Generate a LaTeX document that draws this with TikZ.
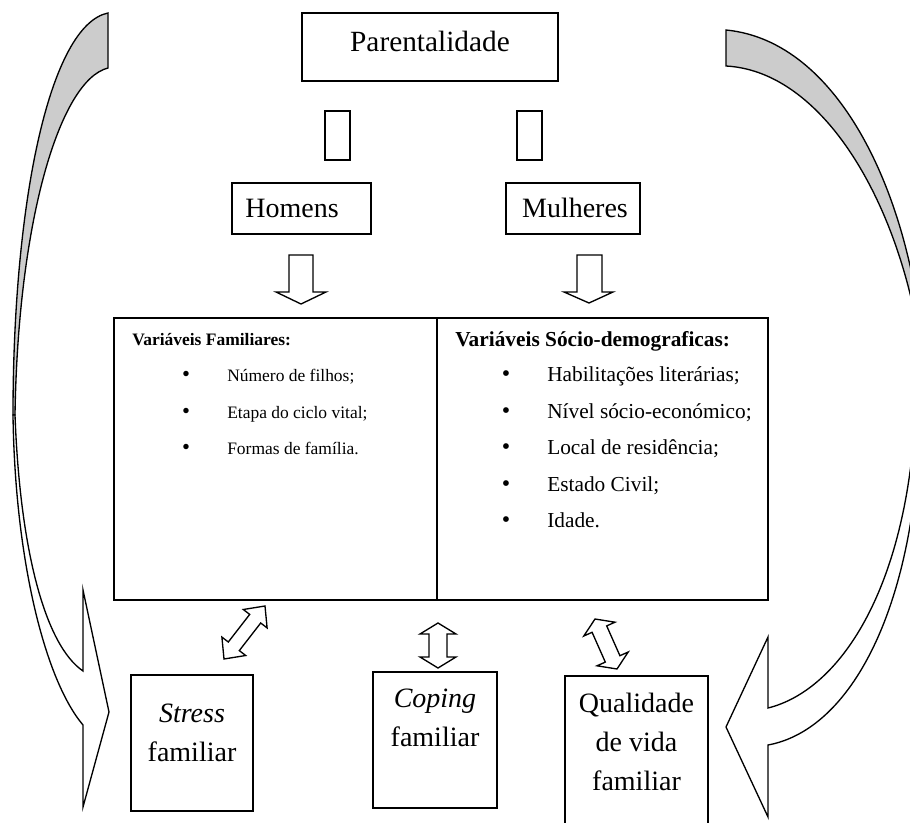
\documentclass[tikz,border=0pt]{standalone}
\usepackage{fontspec}
\setmainfont{Liberation Serif}
\begin{document}
\begin{tikzpicture}[x=0.75pt,y=-0.75pt,line join=miter,
  box/.style={draw,line width=1.15pt,inner sep=0pt,fill=white},
  big/.style={inner sep=0pt,anchor=base,font=\fontsize{21}{25}\selectfont},
  body/.style={inner sep=0pt,anchor=base west,font=\fontsize{13.1}{15}\selectfont},
  bodyr/.style={inner sep=0pt,anchor=base west,font=\fontsize{16}{18}\selectfont},
  bul/.style={inner sep=0pt,anchor=base,font=\fontsize{17}{17}\selectfont},
  bulr/.style={inner sep=0pt,anchor=base,font=\fontsize{18}{18}\selectfont},
  blk/.style={draw,line width=1pt,fill=white},
  band/.style={draw,line width=1pt,fill=black!20}]
\useasboundingbox (0,0) rectangle (910,823);
\clip (0,0) rectangle (910,823);

% curved arrows
\draw[band] (108,13) .. controls (50,25) and (13,200) .. (13,415) -- (15,415) .. controls (18,220) and (60,80) .. (108,68) -- cycle;
\draw[blk] (15,415) .. controls (20,550) and (45,645) .. (83,671) -- (83,590) -- (109,712) -- (83,807) -- (83,725) .. controls (45,680) and (15,560) .. (13,415) -- cycle;
\draw[band] (726,30) .. controls (850,42) and (922,225) .. (925,390) .. controls (915,235) and (835,72) .. (726,66) -- cycle;
\draw[blk] (915,420) .. controls (905,590) and (840,690) .. (768,708) -- (768,637) -- (726,727) -- (768,817) -- (768,745) .. controls (850,730) and (915,610) .. (920,420) -- cycle;

% boxes
\node[box,minimum width=192pt,minimum height=51pt] (par) at (430,47) {};
\node[big,font=\fontsize{22}{26}\selectfont] (partxt) at (430,52) {Parentalidade};
\node[box,minimum width=18.75pt,minimum height=36.75pt] (gl) at (337.5,135.5) {};
\node[box,minimum width=18.75pt,minimum height=36.75pt] (gr) at (529.5,135.5) {};
\node[box,minimum width=104.25pt,minimum height=38.25pt] (hom) at (301.5,208.5) {};
\node[big] (homtxt) at (292,218) {Homens};
\node[box,minimum width=100.5pt,minimum height=38.25pt] (mul) at (573,208.5) {};
\node[big] (multxt) at (575,218) {Mulheres};

% down block arrows
\draw[blk] (289,255) -- (313,255) -- (313,292) -- (326,292) -- (301,304) -- (276,292) -- (289,292) -- cycle;
\draw[blk] (577,255) -- (602,255) -- (602,292) -- (613,292) -- (589,303) -- (564,292) -- (577,292) -- cycle;

% main box
\node[box,minimum width=242.25pt,minimum height=211.5pt] (fam) at (275.5,459) {};
\node[box,minimum width=248.25pt,minimum height=211.5pt] (soc) at (602.5,459) {};

\node[body,font=\fontsize{13.1}{15}\selectfont\bfseries] (famh) at (132,346) {Variáveis Familiares:};
\node[bul] (fb1) at (186,382) {•};
\node[body] (fi1) at (227,382) {Número de filhos;};
\node[bul] (fb2) at (186,418) {•};
\node[body] (fi2) at (227,418) {Etapa do ciclo vital;};
\node[bul] (fb3) at (186,454) {•};
\node[body] (fi3) at (227,454) {Formas de família.};

\node[bodyr,font=\fontsize{16}{18}\selectfont\bfseries] (soch) at (455,347) {Variáveis Sócio-demograficas:};
\node[bulr] (sb1) at (506,382) {•};
\node[bodyr] (si1) at (547,382) {Habilitações literárias;};
\node[bulr] (sb2) at (506,418) {•};
\node[bodyr] (si2) at (547,418) {Nível sócio-económico;};
\node[bulr] (sb3) at (506,454) {•};
\node[bodyr] (si3) at (547,454) {Local de residência;};
\node[bulr] (sb4) at (506,491) {•};
\node[bodyr] (si4) at (547,491) {Estado Civil;};
\node[bulr] (sb5) at (506,527) {•};
\node[bodyr] (si5) at (547,527) {Idade.};

% double arrows
\draw[blk] (265,606) -- (267.1,627.9) -- (260.7,623.0) -- (239.3,650.6) -- (245.7,655.5) -- (224,659) -- (221.9,637.1) -- (228.3,642.0) -- (249.7,614.4) -- (243.3,609.5) -- cycle;
\draw[blk] (438,623) -- (456,634) -- (447,634) -- (447,657) -- (456,657) -- (438,668) -- (420,657) -- (429,657) -- (429,634) -- (420,634) -- cycle;
\draw[blk] (595,619) -- (615.0,622.2) -- (606.7,625.9) -- (619.9,655.7) -- (628.2,652.0) -- (617,669) -- (597.0,665.8) -- (605.3,662.1) -- (592.1,632.3) -- (583.8,636.0) -- cycle;

% bottom boxes
\node[box,minimum width=91.5pt,minimum height=102pt] (str) at (192,743) {};
\node[big,font=\fontsize{21}{25}\selectfont\itshape] (str1) at (192,722) {Stress};
\node[big] (str2) at (192,761) {familiar};
\node[box,minimum width=93pt,minimum height=102pt] (cop) at (435,740) {};
\node[big,font=\fontsize{21}{25}\selectfont\itshape] (cop1) at (435,707) {Coping};
\node[big] (cop2) at (435,746) {familiar};
\node[box,minimum width=107.25pt,minimum height=130.5pt] (qual) at (636.5,763) {};
\node[big] (qual1) at (636.5,712) {Qualidade};
\node[big] (qual2) at (636.5,751) {de vida};
\node[big] (qual3) at (636.5,790) {familiar};
\end{tikzpicture}
\end{document}
